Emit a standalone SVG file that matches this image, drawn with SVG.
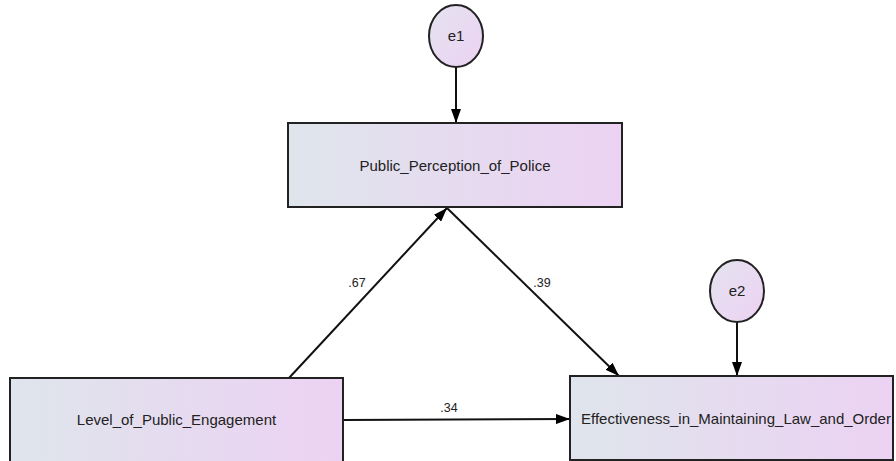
<svg xmlns="http://www.w3.org/2000/svg" width="896" height="461" viewBox="0 0 896 461">
  <defs>
    <linearGradient id="g" x1="0" y1="0" x2="1" y2="0">
      <stop offset="0" stop-color="#dfe5ec"/>
      <stop offset="1" stop-color="#ecd2f3"/>
    </linearGradient>
    <linearGradient id="ge" x1="0" y1="0" x2="1" y2="1">
      <stop offset="0" stop-color="#e4e3ef"/>
      <stop offset="1" stop-color="#edd2f3"/>
    </linearGradient>
    <marker id="arr" markerWidth="14" markerHeight="10" refX="14" refY="5" orient="auto" markerUnits="userSpaceOnUse">
      <path d="M0,0 L14,5 L0,10 Z" fill="#000"/>
    </marker>
    <style>
      .box { fill: url(#g); stroke: #222; stroke-width: 2; }
      .err { fill: url(#ge); stroke: #222; stroke-width: 2; }
      .t { font-family: "Liberation Sans", Arial, sans-serif; font-size: 15px; fill: #222; text-anchor: middle; }
      .lbl { font-family: "Liberation Sans", Arial, sans-serif; font-size: 12.5px; fill: #222; text-anchor: middle; }
      .c { stroke: #111; stroke-width: 2; fill: none; marker-end: url(#arr); }
    </style>
  </defs>
  <rect width="896" height="461" fill="#fff"/>
  <g id="connectors">
    <line class="c" x1="456" y1="67" x2="456" y2="123"/>
    <line class="c" x1="737" y1="322" x2="737" y2="376"/>
    <line class="c" x1="289" y1="378" x2="447" y2="208"/>
    <line class="c" x1="447" y1="208" x2="619" y2="376"/>
    <line class="c" x1="343" y1="420" x2="570" y2="419"/>
    <text class="lbl" x="357" y="287">.67</text>
    <text class="lbl" x="542" y="287">.39</text>
    <text class="lbl" x="449" y="412">.34</text>
  </g>
  <g id="e1">
    <ellipse class="err" cx="456" cy="36" rx="27" ry="31"/>
    <text class="t" x="456" y="41">e1</text>
  </g>
  <g id="e2">
    <ellipse class="err" cx="737" cy="291" rx="27" ry="31"/>
    <text class="t" x="737" y="296">e2</text>
  </g>
  <g id="ppp">
    <rect class="box" x="288" y="123" width="334" height="84"/>
    <text class="t" x="455" y="171">Public_Perception_of_Police</text>
  </g>
  <g id="lpe">
    <rect class="box" x="10" y="378" width="333" height="90"/>
    <text class="t" x="176.5" y="425">Level_of_Public_Engagement</text>
  </g>
  <g id="emlo">
    <rect class="box" x="570" y="376" width="323" height="84"/>
    <text class="t" x="736" y="424">Effectiveness_in_Maintaining_Law_and_Order</text>
  </g>
</svg>
